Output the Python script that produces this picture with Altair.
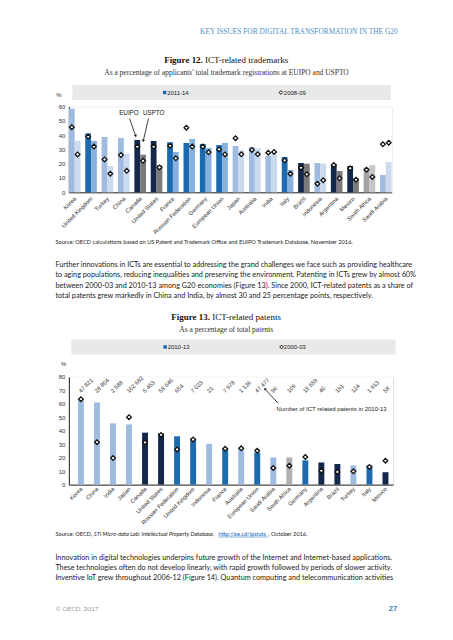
import altair as alt
import pandas as pd

# ---------------- Figure 12: ICT-related trademarks ----------------
countries_tm = ["Korea", "United Kingdom", "Turkey", "China", "Canada", "United States", "France",
                "Russian Federation", "Germany", "European Union", "Japan", "Australia", "India", "Italy",
                "Brazil", "Indonesia", "Argentina", "Mexico", "South Africa", "Saudi Arabia"]
euipo_2011_14 = [58.5, 41.2, 38.7, 38.0, 36.6, 35.9, 35.0, 34.5, 33.8, 33.0, 32.4, 31.7, 25.4, 24.7,
                 20.5, 20.5, 19.6, 18.4, 17.2, 12.1]
uspto_2011_14 = [36.0, 36.0, 18.4, 27.0, 26.3, 19.0, 28.2, 37.3, 31.0, 34.5, 29.4, 30.7, 26.6, 15.6,
                 20.0, 20.0, 14.9, 9.8, 19.0, 21.2]
euipo_2008_09 = [45.5, 39.0, 23.0, 26.0, 32.0, 32.0, 32.6, 45.2, 32.0, 30.0, 37.8, 29.6, 27.7, 22.4,
                 17.2, 6.0, 19.0, 16.8, 15.8, 33.6]
uspto_2008_09 = [26.5, 32.0, 13.0, 15.0, 22.0, 17.4, 23.8, 32.0, 28.0, 26.5, 26.6, 26.6, 28.2, 13.0,
                 12.6, 8.4, 9.8, 8.8, 10.7, 34.7]
group_tm = ["asia", "europe", "asia", "asia", "americas", "americas", "europe", "europe", "europe",
            "europe", "asia", "asia", "asia", "europe", "americas", "asia", "americas", "americas",
            "africa", "asia"]

# ---------------- Figure 13: ICT-related patents ----------------
countries_pat = ["Korea", "China", "India", "Japan", "Canada", "United States", "Russian Federation",
                 "United Kingdom", "Indonesia", "France", "Australia", "European Union", "Saudi Arabia",
                 "South Africa", "Germany", "Argentina", "Brazil", "Turkey", "Italy", "Mexico"]
share_2010_13 = [62.5, 61.0, 45.5, 44.7, 38.6, 38.1, 35.9, 34.4, 30.3, 27.0, 27.0, 23.8, 20.2, 20.2,
                 18.0, 16.5, 15.3, 14.3, 14.3, 9.2]
share_2000_03 = [63.4, 31.5, 19.7, 50.1, 31.3, 36.9, 26.1, 33.5, None, 26.6, 27.0, 25.2, 12.4, 14.1,
                 20.5, 10.4, 9.4, 9.9, 13.1, 17.8]
count_2010_13 = ["47 821", "28 804", "2 588", "102 682", "5 453", "58 646", "654", "7 023", "21",
                 "7 978", "1 136", "47 477", "96", "109", "15 659", "40", "191", "124", "1 913", "58"]
group_pat = ["asia", "asia", "asia", "asia", "americas", "americas", "europe", "europe", "asia",
             "europe", "asia", "europe", "asia", "africa", "europe", "americas", "americas", "asia",
             "europe", "americas"]

SOLID = {"asia": "#9fbbe0", "europe": "#1c6ab0", "americas": "#13284a", "africa": "#a3a3a3"}
HATCH = {"asia": "#cbdaee", "europe": "#88b1de", "americas": "#7b7b7b", "africa": "#c6c6c6"}

NARROW = "Liberation Sans Narrow, Arial Narrow, Liberation Sans, sans-serif"
SERIF = "Liberation Serif, Times New Roman, serif"
BODY = "Lato, Liberation Sans, sans-serif"
BG = "#e9e9e9"

rows = []
for i, c in enumerate(countries_tm):
    rows.append(dict(country=c, office="EUIPO", v=euipo_2011_14[i], m=euipo_2008_09[i], col=SOLID[group_tm[i]]))
    rows.append(dict(country=c, office="USPTO", v=uspto_2011_14[i], m=uspto_2008_09[i], col=HATCH[group_tm[i]]))
df_tm = pd.DataFrame(rows)

df_pat = pd.DataFrame({
    "country": countries_pat,
    "v": share_2010_13,
    "m": share_2000_03,
    "n": count_2010_13,
    "col": [SOLID[g] if g != "africa" else "#b0b0b0" for g in group_pat],
})


def txt(s, x, y, size, font=BODY, color="#222222", weight="normal", align="left", italic=False):
    kw = dict(font=font, fontSize=size, color=color, fontWeight=weight, align=align, baseline="middle")
    if italic:
        kw["fontStyle"] = "italic"
    return alt.Chart(pd.DataFrame({"t": [s]})).mark_text(**kw).encode(
        text="t:N", x=alt.value(x), y=alt.value(y))


def box(x1, x2, y1, y2, color, opacity=1.0):
    return alt.Chart(pd.DataFrame({"a": [0]})).mark_rect(color=color, opacity=opacity).encode(
        x=alt.value(x1), x2=alt.value(x2), y=alt.value(y1), y2=alt.value(y2))


def seg(x1, y1, x2, y2, color="#111111", w=0.8):
    return alt.Chart(pd.DataFrame({"a": [0]})).mark_rule(color=color, strokeWidth=w).encode(
        x=alt.value(x1), x2=alt.value(x2), y=alt.value(y1), y2=alt.value(y2))


def sym(shape, x, y, size, angle=0, fill="#111111", stroke=None, sw=1.0):
    kw = dict(shape=shape, size=size, filled=True, fill=fill, opacity=1)
    if stroke:
        kw["stroke"] = stroke
        kw["strokeWidth"] = sw
    if angle:
        kw["angle"] = angle
    return alt.Chart(pd.DataFrame({"a": [0]})).mark_point(**kw).encode(x=alt.value(x), y=alt.value(y))


def xaxis(pad):
    return alt.Axis(title=None, labelAngle=-45, labelAlign="right", labelBaseline="middle",
                    labelFont=NARROW, labelFontSize=5.8, labelColor="#333333", labelPadding=pad,
                    ticks=False, domainColor="#222222", domainWidth=1, grid=True,
                    gridColor="#ffffff", gridWidth=1, tickBand="extent")


def yaxis(top):
    return alt.Axis(title=None, values=list(range(0, top + 1, 10)), labelFont=NARROW,
                    labelFontSize=6, labelColor="#333333", labelPadding=4, ticks=False,
                    domainColor="#222222", domainWidth=1, gridColor="#ffffff", gridWidth=1)


# ---------------- block 1 ----------------
W1, H1 = 323.5, 86
x1 = alt.X("country:N", sort=countries_tm, scale=alt.Scale(paddingInner=0.29, paddingOuter=0), axis=xaxis(5))
xo1 = alt.XOffset("office:N", sort=["EUIPO", "USPTO"], scale=alt.Scale(paddingInner=0, paddingOuter=0))
ysc1 = alt.Scale(domain=[0, 60], nice=False)

bars1 = alt.Chart(df_tm).mark_bar().encode(
    x=x1, xOffset=xo1, y=alt.Y("v:Q", scale=ysc1, axis=yaxis(60)),
    color=alt.Color("col:N", scale=None))
pts1 = alt.Chart(df_tm).mark_point(shape="diamond", filled=True, fill="white", stroke="#111111",
                                   strokeWidth=1.3, size=22, opacity=1).encode(
    x=x1, xOffset=xo1, y=alt.Y("m:Q", scale=ysc1, axis=yaxis(60)))

para1 = [
    "Further innovations in ICTs are essential to addressing the grand challenges we face such as providing healthcare",
    "to aging populations, reducing inequalities and preserving the environment. Patenting in ICTs grew by almost 60%",
    "between 2000-03 and 2010-13 among G20 economies (Figure 13). Since 2000, ICT-related patents as a share of",
    "total patents grew markedly in China and India, by almost 30 and 25 percentage points, respectively.",
]
para1_y = [158.8, 169.4, 179.7, 190.0]

block1 = alt.layer(
    box(-60.5, 376.5, -97.5, 199.5, "#ffffff", 0),
    txt("KEY ISSUES FOR DIGITAL TRANSFORMATION IN THE G20", 329.5, -74.5, 7.4, SERIF, "#4f8fc5", align="right"),
    txt("Figure 12.", 134.3, -46.5, 9, SERIF, "#111111", weight="bold", align="right"),
    txt("ICT-related trademarks", 136.5, -46.5, 9, SERIF, "#111111"),
    txt("As a percentage of applicants' total trademark registrations at EUIPO and USPTO", 158, -33.5, 7.5, SERIF, "#333333", align="center"),
    box(3.5, 322.5, -21.5, -6.5, BG),
    sym("square", 96, -14, 12, fill="#1c6ab0"),
    txt("2011-14", 98.5, -13.5, 6, NARROW, "#222222"),
    sym("diamond", 212.5, -14, 14, fill="white", stroke="#111111", sw=1),
    txt("2008-09", 215.5, -13.5, 6, NARROW, "#222222"),
    txt("%", -10, -11.5, 6, NARROW, "#333333", align="center"),
    bars1,
    pts1,
    txt("EUIPO", 60.2, 6.5, 6.3, NARROW, "#111111", align="center"),
    txt("USPTO", 85, 6.5, 6.3, NARROW, "#111111", align="center"),
    seg(60.8, 12, 66.6, 28.5),
    sym("triangle-down", 67, 29.5, 9, angle=340),
    seg(79.8, 12, 74.8, 33.5),
    sym("triangle-down", 74.5, 34.5, 9, angle=13),
    txt("Source: OECD calculations based on US Patent and Trademark Office and EUIPO Trademark Database, November 2016.",
        -13.5, 135.5, 5.7, BODY, "#222222"),
    *[txt(s, -13.5, yy, 7.3, BODY, "#222222") for s, yy in zip(para1, para1_y)],
).properties(width=W1, height=H1)

# ---------------- block 2 ----------------
W2, H2 = 325, 108
x2 = alt.X("country:N", sort=countries_pat,
           scale=alt.Scale(paddingInner=0.63, paddingOuter=0.43, align=0.66), axis=xaxis(3))
ysc2 = alt.Scale(domain=[0, 80], nice=False)

bars2 = alt.Chart(df_pat).mark_bar().encode(
    x=x2, y=alt.Y("v:Q", scale=ysc2, axis=yaxis(80)), color=alt.Color("col:N", scale=None))
pts2 = alt.Chart(df_pat).mark_point(shape="diamond", filled=True, fill="white", stroke="#111111",
                                    strokeWidth=1.3, size=22, opacity=1).encode(
    x=x2, y=alt.Y("m:Q", scale=ysc2, axis=yaxis(80)))
counts2 = alt.Chart(df_pat).mark_text(font=NARROW, fontSize=5.8, color="#333333", angle=315,
                                      align="left", baseline="middle", dx=-2).encode(
    x=x2, y=alt.value(13.5), text="n:N")

para2 = [
    "Innovation in digital technologies underpins future growth of the Internet and Internet-based applications.",
    "These technologies often do not develop linearly, with rapid growth followed by periods of slower activity.",
    "Inventive IoT grew throughout 2006-12 (Figure 14). Quantum computing and telecommunication activities",
]
para2_y = [181.8, 191.5, 201.2]

block2 = alt.layer(
    box(-60.5, 376.5, -70.5, 256.5, "#ffffff", 0),
    txt("Figure 13.", 141.5, -60.5, 9, SERIF, "#111111", weight="bold", align="right"),
    txt("ICT-related patents", 143.8, -60.5, 9, SERIF, "#111111"),
    txt("As a percentage of total patents", 157.8, -47.2, 7.5, SERIF, "#333333", align="center"),
    box(2.5, 327.5, -37.5, -22.5, BG),
    sym("square", 96.5, -30, 12, fill="#1c6ab0"),
    txt("2010-13", 99, -29.5, 6, NARROW, "#222222"),
    sym("diamond", 213.2, -30, 14, fill="white", stroke="#111111", sw=1),
    txt("2000-03", 215.5, -29.5, 6, NARROW, "#222222"),
    txt("%", -5.2, -13.2, 6, NARROW, "#333333", align="center"),
    bars2,
    pts2,
    counts2,
    txt("Number of ICT related patents in 2010-13", 208.2, 32.2, 6, NARROW, "#222222"),
    seg(209.8, 26.5, 197.3, 13),
    sym("triangle-up", 196.5, 12, 9, angle=317),
    txt("Source: OECD, ", -13.5, 157.5, 5.7, BODY, "#222222"),
    txt("STI Micro-data Lab: Intellectual Property Database,", 25, 157.5, 5.7, BODY, "#222222", italic=True),
    txt("http://oe.cd/ipstats", 150, 157.5, 5.7, BODY, "#0563c1"),
    seg(150, 160.5, 199.5, 160.5, "#0563c1", 0.5),
    txt(", October 2016.", 199.8, 157.5, 5.7, BODY, "#222222"),
    *[txt(s, -13.5, yy, 7.3, BODY, "#222222") for s, yy in zip(para2, para2_y)],
    txt("© OECD, 2017", -13.5, 232.8, 6.5, BODY, "#9a9a9a"),
    txt("27", 329, 232.8, 7.5, "Liberation Sans, sans-serif", "#3b7dc0", weight="bold", align="right"),
).properties(width=W2, height=H2)

chart = alt.vconcat(block1, block2, spacing=0).properties(
    padding=0
).configure_view(fill=BG, strokeWidth=0).configure(background="white")

chart.save("out.html", embed_options={"renderer": "svg", "actions": False})
